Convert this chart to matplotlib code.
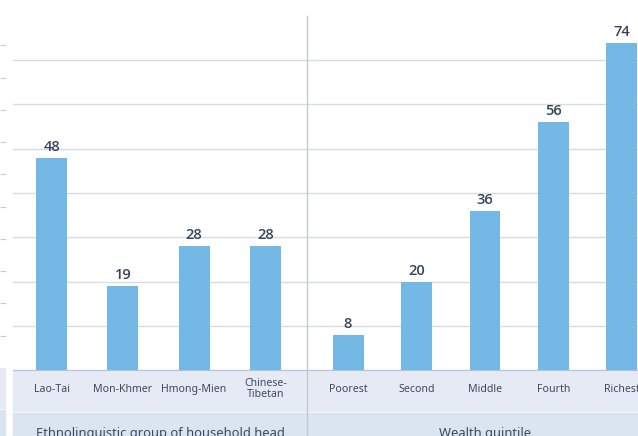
import matplotlib.pyplot as plt
from matplotlib.patches import Rectangle
from matplotlib.lines import Line2D
from matplotlib.transforms import blended_transform_factory

plt.rcParams['font.family'] = ['Noto Sans', 'DejaVu Sans']

# datos
etnias = ['Lao-Tai', 'Mon-Khmer', 'Hmong-Mien', 'Chinese-\nTibetan']
valores_etnia = [48, 19, 28, 28]
quintiles = ['Poorest', 'Second', 'Middle', 'Fourth', 'Richest']
valores_quintil = [8, 20, 36, 56, 74]
grupos = ['Ethnolinguistic group of household head', 'Wealth quintile']

W, H = 638, 436
color_barra = '#74b9e6'
color_texto = '#3a4a5e'
color_caja1 = '#e6eaf5'
color_caja2 = '#dbe5f2'
color_grid = '#d8dce2'


def fx(px):
    return px / W


def fy(py):
    # py medido desde arriba
    return (H - py) / H


fig = plt.figure(figsize=(W / 100, H / 100), dpi=100)

y_top, y_base = 16, 370
x_izq, x_sep = 13, 307

ax1 = fig.add_axes([fx(x_izq), fy(y_base), fx(x_sep - x_izq), (y_base - y_top) / H])
ax2 = fig.add_axes([fx(x_sep), fy(y_base), fx(W - x_sep), (y_base - y_top) / H])

paneles = [
    (ax1, etnias, valores_etnia, (-0.5435, 3.586), 0.435),
    (ax2, quintiles, valores_quintil, (-0.599, 4.234), 0.4526),
]

for ax, cats, vals, lim, ancho in paneles:
    pos = list(range(len(cats)))
    ax.bar(pos, vals, width=ancho, color=color_barra, zorder=2)
    for p, v in zip(pos, vals):
        ax.annotate(f'{v}', (p, v), xytext=(0, 5), textcoords='offset points',
                    ha='center', va='baseline', fontsize=10.5, fontweight='semibold',
                    family=['Open Sans', 'DejaVu Sans'], color='#34445a')
    ax.set_xlim(*lim)
    ax.set_ylim(0, 80)
    ax.set_yticks(range(10, 80, 10))
    ax.yaxis.grid(True, color=color_grid, lw=1)
    ax.set_axisbelow(True)
    ax.tick_params(left=False, labelleft=False)
    for s in ['top', 'left', 'right']:
        ax.spines[s].set_visible(False)
    ax.spines['bottom'].set_color('#b7c3dc')
    ax.set_xticks(pos)
    ax.set_xticklabels(cats, fontsize=7.6, color=color_texto, linespacing=1.0)
    ax.tick_params(axis='x', length=0, pad=13.7)
    for t in ax.get_xticklabels():
        t.set_verticalalignment('center')
    ax.set_facecolor('none')

# cajas de categorias y grupos
fig.add_artist(Rectangle((fx(x_izq), fy(411)), fx(W - x_izq), (411 - 370) / H,
                         transform=fig.transFigure, color=color_caja1, zorder=0))
fig.add_artist(Rectangle((fx(x_izq), fy(H)), fx(W - x_izq), (H - 413) / H,
                         transform=fig.transFigure, color=color_caja2, zorder=0))

# restos del panel de la izquierda
fig.add_artist(Rectangle((0, fy(408)), fx(5), (408 - 368) / H,
                         transform=fig.transFigure, color=color_caja1, zorder=0))
fig.add_artist(Rectangle((0, fy(H)), fx(5), (H - 410) / H,
                         transform=fig.transFigure, color=color_caja2, zorder=0))
ax0 = fig.add_axes([-0.05, fy(368), 0.05, (368 - 45.3) / H])
ax0.set_ylim(0, 10)
ax0.set_yticks(range(1, 11))
ax0.yaxis.tick_right()
ax0.tick_params(axis='y', direction='out', length=4, color='#c9cdd4', labelright=False)
ax0.set_xticks([])
for s in ax0.spines.values():
    s.set_visible(False)

# separador vertical
fig.add_artist(Line2D([fx(x_sep), fx(x_sep)], [0, fy(y_top)], transform=fig.transFigure,
                      color='#c6c8cc', lw=1, zorder=3))

# etiquetas de grupo
fig.text(fx((x_izq + x_sep) / 2), fy(437), grupos[0], ha='center', va='baseline',
         fontsize=9.3, color=color_texto)
ax2.text(2, fy(437), grupos[1], ha='center', va='baseline', fontsize=9.3,
         color=color_texto,
         transform=blended_transform_factory(ax2.transData, fig.transFigure))

fig.savefig('out.png', dpi=100)
